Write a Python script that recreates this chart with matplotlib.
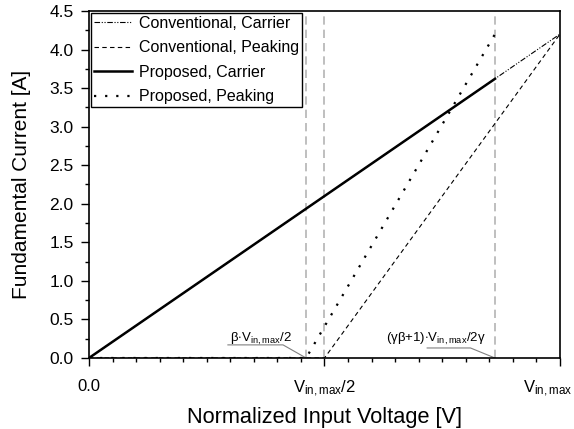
import matplotlib
matplotlib.use("Agg")
import matplotlib.pyplot as plt
import matplotlib.transforms as mtransforms
from matplotlib.ticker import MultipleLocator, FixedLocator, FixedFormatter

plt.rcParams['font.family'] = ['Liberation Sans', 'DejaVu Sans']
plt.rcParams['mathtext.fontset'] = 'custom'
plt.rcParams['mathtext.rm'] = 'Liberation Sans'
plt.rcParams['mathtext.it'] = 'Liberation Sans'

# Normalized input voltage breakpoints and fundamental currents
x_conv_carrier = [0.0, 1.0]
i_conv_carrier = [0.0, 4.2]

x_conv_peak = [0.0, 0.5, 1.0]
i_conv_peak = [0.0, 0.0, 4.2]

x_prop_carrier = [0.0, 0.862]
i_prop_carrier = [0.0, 3.62]

x_prop_peak = [0.0, 0.461, 0.862]
i_prop_peak = [0.0, 0.0, 4.2]

# Turn-on / saturation points of the proposed amplifier
x_beta = 0.461
x_sat = 0.862

x_tick_pos = [0.0, 0.5, 1.0]
x_tick_labels = ['0.0', r'V$_{\rm in,max}$/2', r'V$_{\rm in,max}$']

fig = plt.figure(figsize=(5.74, 4.29), dpi=100)
ax = fig.add_axes([0.155, 0.1655, 0.8206, 0.809])

for xv in (x_beta, 0.5, x_sat):
    ax.axvline(xv, color='#b4b4b4', lw=1.2, ls=(0, (5, 3)), zorder=1)

ax.plot(x_conv_carrier, i_conv_carrier, color='black', lw=0.8,
        ls=(0, (5, 1.5, 1, 1.5, 1, 1.5)), label='Conventional, Carrier', zorder=3)
ax.plot(x_conv_peak, i_conv_peak, color='black', lw=0.8,
        ls=(0, (4, 3)), label='Conventional, Peaking', zorder=3)
ax.plot(x_prop_carrier, i_prop_carrier, color='black', lw=1.8,
        ls='-', label='Proposed, Carrier', zorder=4)
ax.plot(x_prop_peak, i_prop_peak, color='black', lw=1.6,
        ls=(0, (1, 4)), label='Proposed, Peaking', zorder=4)

ax.set_xlim(0, 1)
ax.set_ylim(0, 4.5)

ax.xaxis.set_major_locator(FixedLocator(x_tick_pos))
ax.xaxis.set_major_formatter(FixedFormatter(x_tick_labels))
ax.xaxis.set_minor_locator(MultipleLocator(0.05))
ax.yaxis.set_major_locator(MultipleLocator(0.5))
ax.yaxis.set_minor_locator(MultipleLocator(0.25))
ax.yaxis.set_major_formatter(plt.FuncFormatter(lambda v, p: f'{v:.1f}'))

ax.tick_params(axis='both', which='major', direction='out', length=6, width=1,
               labelsize=12.5, pad=5)
ax.tick_params(axis='x', which='major', labelsize=12, pad=9)
ax.tick_params(axis='both', which='minor', direction='out', length=3, width=1)
for s in ax.spines.values():
    s.set_linewidth(1.2)

# keep the right-most tick label inside the figure
fig.canvas.draw()
last = ax.get_xticklabels()[-1]
last.set_transform(last.get_transform() +
                   mtransforms.ScaledTranslation(-12 / 100, 0, fig.dpi_scale_trans))

ax.set_xlabel('Normalized Input Voltage [V]', fontsize=15.7, labelpad=6)
ax.set_ylabel('Fundamental Current [A]', fontsize=15, labelpad=13)

leg = ax.legend(loc='upper left', fontsize=11.5, frameon=True, fancybox=False,
                edgecolor='black', framealpha=1, borderpad=0.15,
                handlelength=2.4, handletextpad=0.45, labelspacing=0.6,
                borderaxespad=0.15)
leg.get_frame().set_linewidth(1.0)

# Leader lines for the turn-on and saturation points
ax.annotate(r'$\beta$$\cdot$V$_{\rm in,max}$/2', xy=(x_beta, 0.0),
            xytext=(0.3, 0.14), fontsize=9.5, ha='left', va='bottom',
            textcoords='data')
ax.plot([0.295, 0.412, x_beta], [0.17, 0.17, 0.0], color='#808080', lw=0.8,
        zorder=2)
ax.annotate(r'($\gamma\beta$+1)$\cdot$V$_{\rm in,max}$/2$\gamma$', xy=(x_sat, 0.0),
            xytext=(0.63, 0.14), fontsize=9.5, ha='left', va='bottom',
            textcoords='data')
ax.plot([0.718, 0.810, x_sat], [0.13, 0.13, 0.0], color='#808080', lw=0.8,
        zorder=2)

fig.savefig('out.png', dpi=100)
